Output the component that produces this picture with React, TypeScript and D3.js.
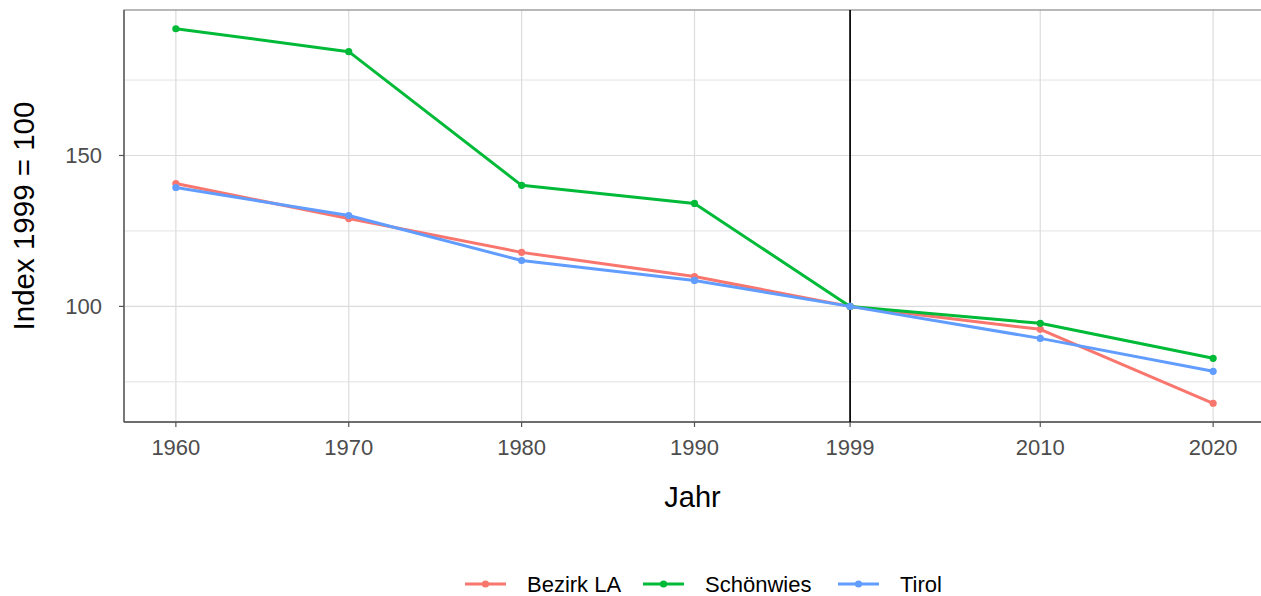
import React from "react";
import * as d3 from "d3";

const years = [1960, 1970, 1980, 1990, 1999, 2010, 2020];
const seriesNames = ["Bezirk LA", "Schönwies", "Tirol"];
const bezirkLA = [140.7, 129.1, 117.9, 109.9, 100, 92.4, 67.9];
const schoenwies = [192.0, 184.4, 140.1, 134.1, 100, 94.4, 82.8];
const tirol = [139.4, 130.1, 115.2, 108.6, 100, 89.4, 78.5];
const colors = ["#F8766D", "#00BA38", "#619CFF"];
const yTicks = [100, 150];
const yMinor = [75, 125, 175];
const refYear = 1999;

export default function App() {
  const W = 1261, H = 596;
  const left = 124, right = 1265, top = 10, bottom = 422;
  const allVals = [...bezirkLA, ...schoenwies, ...tirol];
  const [vmin, vmax] = d3.extent(allVals) as [number, number];
  const yPad = (vmax - vmin) * 0.05;
  const xPad = (2020 - 1960) * 0.05;
  const x = d3.scaleLinear().domain([1960 - xPad, 2020 + xPad]).range([left, right]);
  const y = d3.scaleLinear().domain([vmin - yPad, vmax + yPad]).range([bottom, top]);
  const data = [bezirkLA, schoenwies, tirol];
  const line = d3
    .line<number>()
    .x((_, i) => x(years[i]))
    .y((d) => y(d));
  const font = "'Liberation Sans', Arial, sans-serif";
  const legendItems = [
    { kx: 465, tx: 527 },
    { kx: 643, tx: 705 },
    { kx: 838, tx: 900 },
  ];
  return (
    <svg width={W} height={H} style={{ position: "absolute", left: 0, top: 0 }} fontFamily={font}>
      <rect x={0} y={0} width={W} height={H} fill="white" />
      {yMinor.map((t) => (
        <line key={"m" + t} x1={left} x2={right} y1={y(t)} y2={y(t)} stroke="#e3e3e3" strokeWidth={1} />
      ))}
      {yTicks.map((t) => (
        <line key={"g" + t} x1={left} x2={right} y1={y(t)} y2={y(t)} stroke="#dcdcdc" strokeWidth={1.2} />
      ))}
      {years.map((t) => (
        <line key={"v" + t} x1={x(t)} x2={x(t)} y1={top} y2={bottom} stroke="#dcdcdc" strokeWidth={1.2} />
      ))}
      <rect x={left} y={top} width={right - left} height={bottom - top} fill="none" stroke="#8a8a8a" strokeWidth={1.2} />
      <line x1={left} x2={right} y1={bottom} y2={bottom} stroke="#555" strokeWidth={1.3} />
      <line x1={left} x2={left} y1={top} y2={bottom} stroke="#555" strokeWidth={1.3} />
      <line x1={x(refYear)} x2={x(refYear)} y1={top} y2={bottom} stroke="black" strokeWidth={1.7} />
      {data.map((d, si) => (
        <g key={si}>
          <path d={line(d) || ""} fill="none" stroke={colors[si]} strokeWidth={3} strokeLinejoin="round" />
          {d.map((v, i) => (
            <circle key={i} cx={x(years[i])} cy={y(v)} r={3.6} fill={colors[si]} />
          ))}
        </g>
      ))}
      {years.map((t) => (
        <g key={"xt" + t}>
          <line x1={x(t)} x2={x(t)} y1={bottom} y2={bottom + 5} stroke="#555" strokeWidth={1.2} />
          <text x={x(t)} y={455} textAnchor="middle" fontSize={22} fill="#4d4d4d">{t}</text>
        </g>
      ))}
      {yTicks.map((t) => (
        <g key={"yt" + t}>
          <line x1={left - 5} x2={left} y1={y(t)} y2={y(t)} stroke="#555" strokeWidth={1.2} />
          <text x={102} y={y(t) + 8} textAnchor="end" fontSize={22} fill="#4d4d4d">{t}</text>
        </g>
      ))}
      <text x={(left + 1261) / 2} y={507} textAnchor="middle" fontSize={29} fill="black">Jahr</text>
      <text transform={`translate(34, ${(top + bottom) / 2}) rotate(-90)`} textAnchor="middle" fontSize={29.5} fill="black">Index 1999 = 100</text>
      {seriesNames.map((n, i) => (
        <g key={n}>
          <line x1={legendItems[i].kx} x2={legendItems[i].kx + 41} y1={584} y2={584} stroke={colors[i]} strokeWidth={3} />
          <circle cx={legendItems[i].kx + 20.5} cy={584} r={3.6} fill={colors[i]} />
          <text x={legendItems[i].tx} y={592} fontSize={22} fill="black">{n}</text>
        </g>
      ))}
    </svg>
  );
}
